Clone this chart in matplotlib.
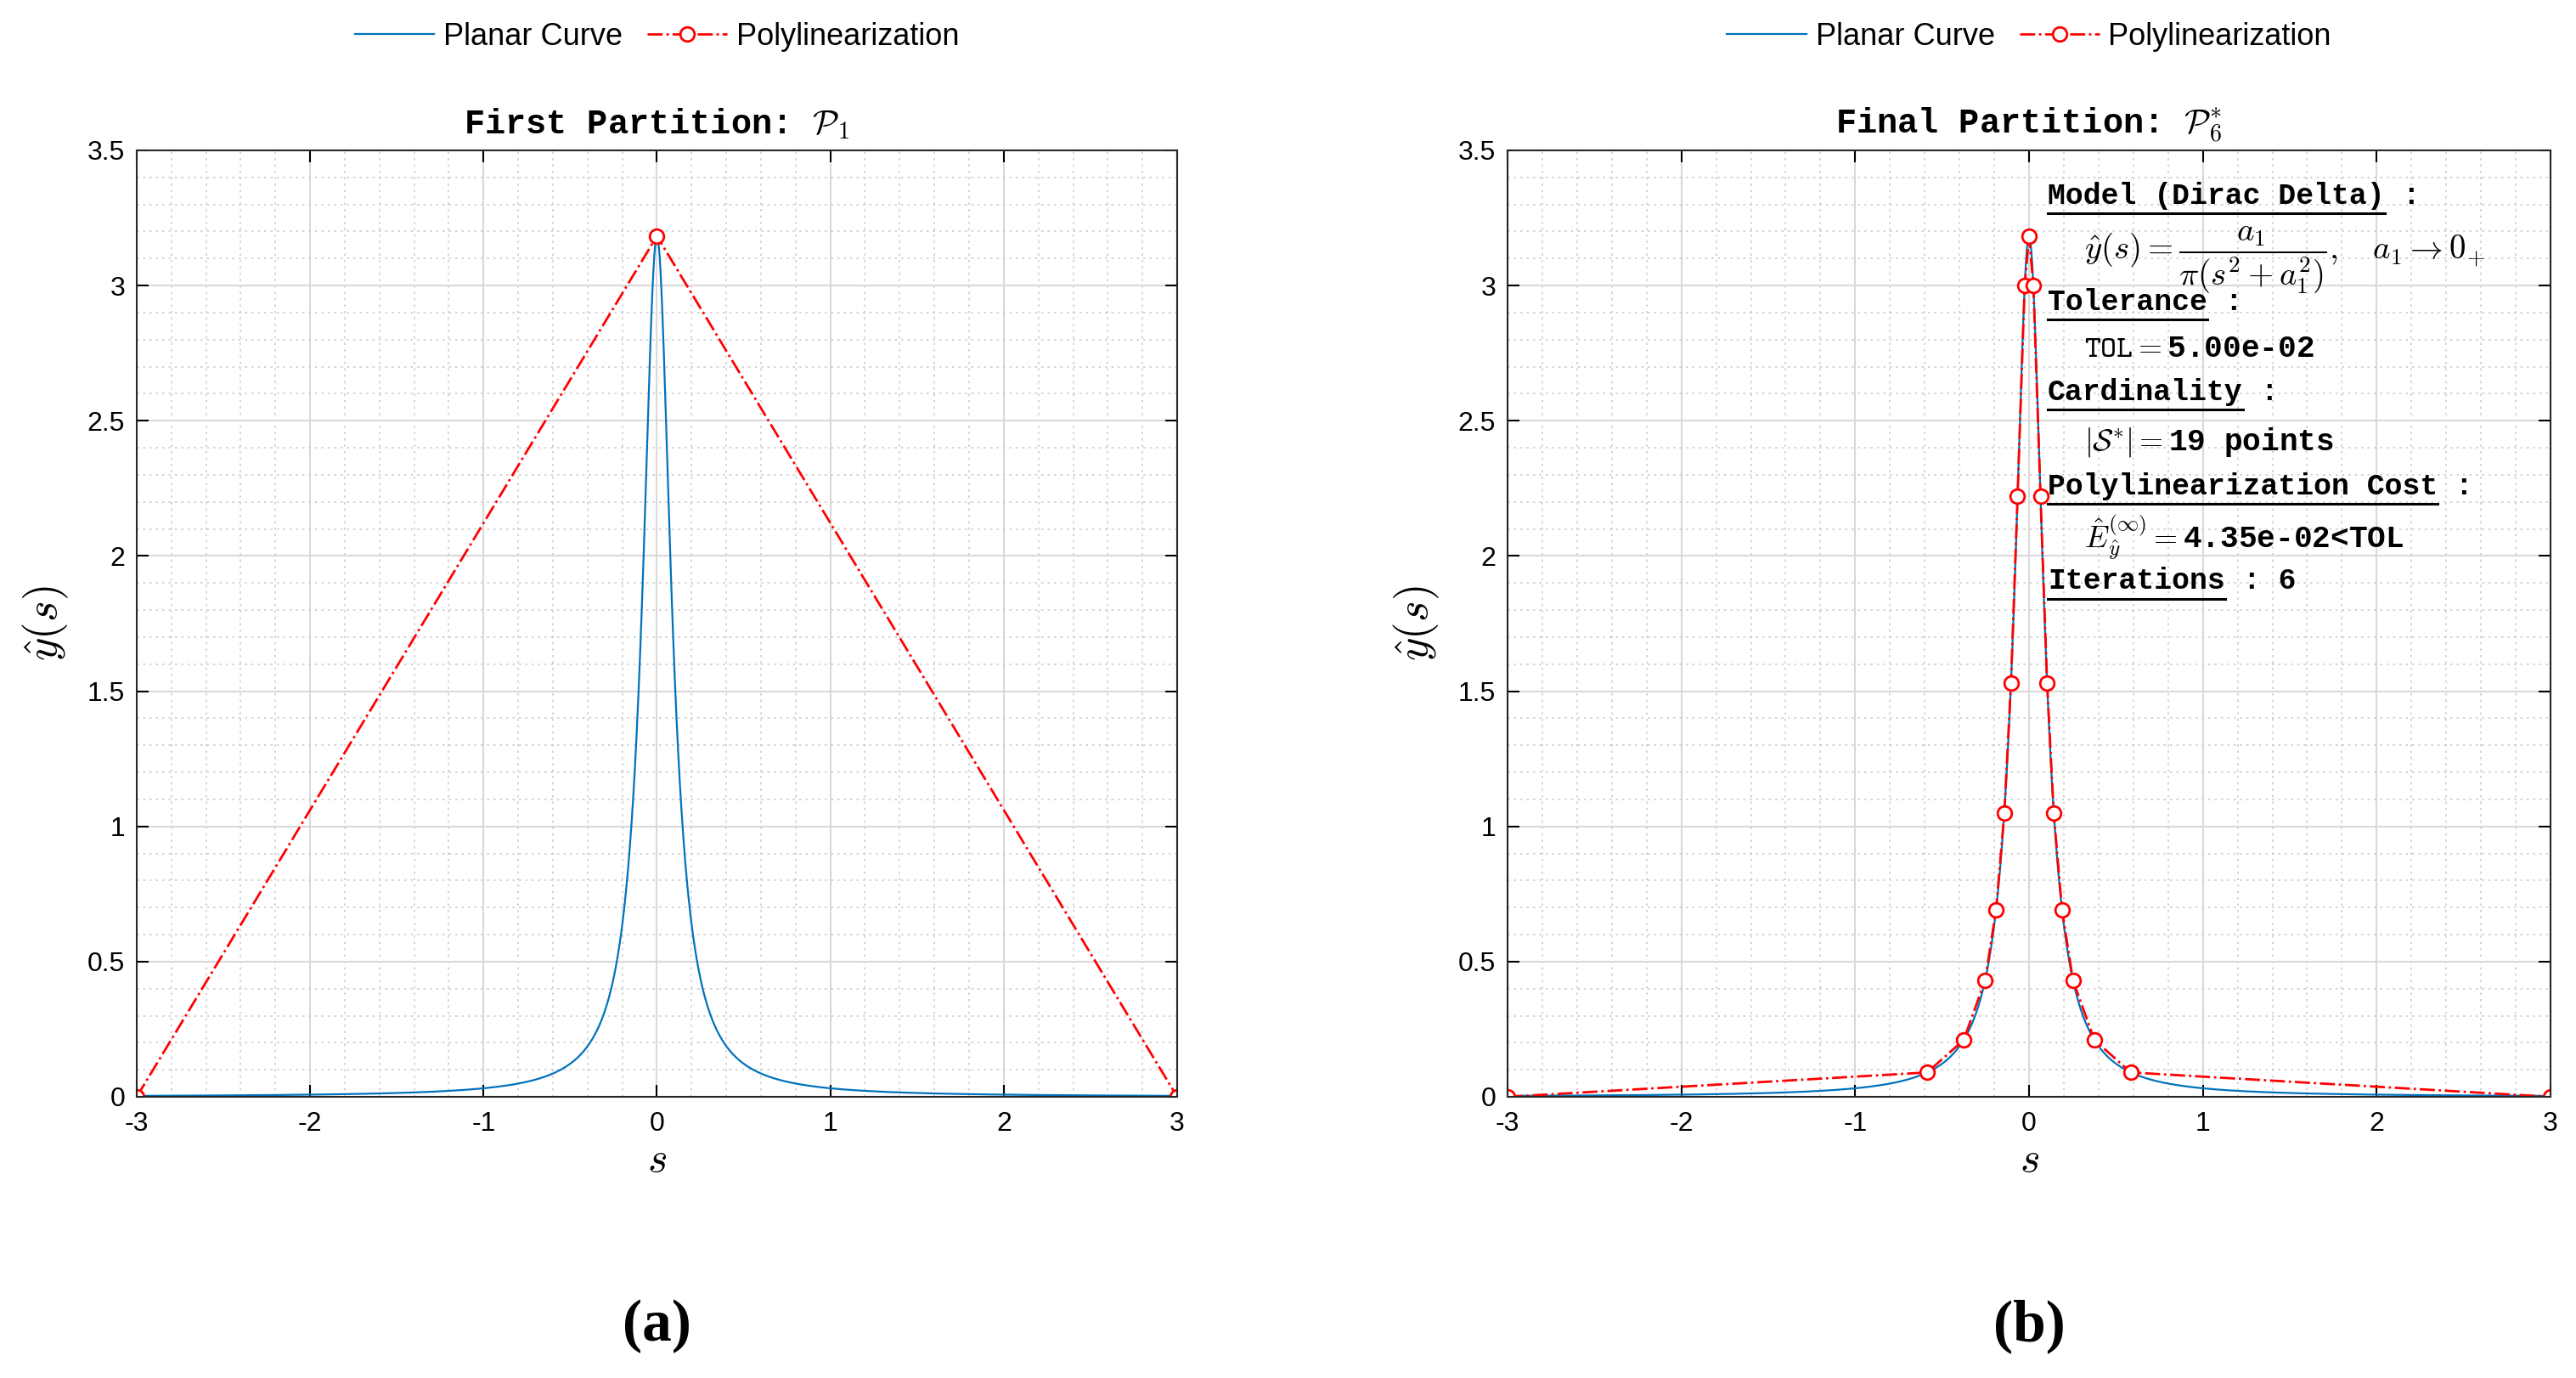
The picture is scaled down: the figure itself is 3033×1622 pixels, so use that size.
import matplotlib
matplotlib.use("Agg")
import matplotlib.pyplot as plt
import numpy as np
from matplotlib.lines import Line2D
from matplotlib.ticker import MultipleLocator

plt.rcParams["font.family"] = ["Liberation Sans", "DejaVu Sans"]
plt.rcParams["mathtext.fontset"] = "cm"
plt.rcParams["axes.unicode_minus"] = False

# model parameter (Dirac delta approximation), peak = 1/(pi*a1) ~ 3.18
A1 = 0.1
S_RANGE = (-3.0, 3.0)

# first partition
p1_s = [-3.0, 0.0, 3.0]
p1_y = [0.0, 3.183, 0.0]

# final partition (19 points)
p6_s = [-3.0, -0.586, -0.376, -0.253, -0.19, -0.142, -0.104, -0.066, -0.025, 0.0,
        0.025, 0.066, 0.104, 0.142, 0.19, 0.253, 0.376, 0.586, 3.0]
p6_y = [0.0, 0.09, 0.21, 0.43, 0.69, 1.05, 1.53, 2.22, 3.0, 3.183,
        3.0, 2.22, 1.53, 1.05, 0.69, 0.43, 0.21, 0.09, 0.0]

titles = [r"First Partition: $\mathcal{P}_1$", r"Final Partition: $\mathcal{P}_6^{*}$"]
panel_tags = ["a", "b"]

annot = [
    ("Model (Dirac Delta)", True),
    (r"$\hat{y}(s) = \dfrac{a_1}{\pi(s^2+a_1^2)},\quad a_1 \rightarrow 0_{+}$", False),
    ("Tolerance", True),
    (r"$\mathtt{TOL} = $5.00e-02", False),
    ("Cardinality", True),
    (r"$|\mathcal{S}^{*}| = $19 points", False),
    ("Polylinearization Cost", True),
    (r"$\hat{E}_{\hat{y}}^{(\infty)} = $4.35e-02<TOL", False),
    ("Iterations", True),
]
annot_y = [0.952, 0.885, 0.84, 0.79, 0.745, 0.692, 0.645, 0.59, 0.545]

W, H = 3033, 1622
fig = plt.figure(figsize=(W / 100, H / 100), dpi=100)
axes_px = [(161, 1386), (1775, 3003)]
top, bottom = 177, 1291

s = np.linspace(*S_RANGE, 3001)
curve = A1 / (np.pi * (s ** 2 + A1 ** 2))

mono = ["Liberation Mono", "DejaVu Sans Mono"]
axs = []
for i, (x0, x1) in enumerate(axes_px):
    ax = fig.add_axes([x0 / W, 1 - bottom / H, (x1 - x0) / W, (bottom - top) / H])
    axs.append(ax)
    ax.plot(s, curve, color="#0072BD", lw=1.6, label="Planar Curve")
    ps, py = (p1_s, p1_y) if i == 0 else (p6_s, p6_y)
    ax.plot(ps, py, "-.o", color="red", lw=2, ms=12, mfc="white", mew=2,
            label="Polylinearization")
    ax.set_xlim(-3, 3)
    ax.set_ylim(0, 3.5)
    ax.xaxis.set_major_locator(MultipleLocator(1))
    ax.xaxis.set_minor_locator(MultipleLocator(0.2))
    ax.yaxis.set_minor_locator(MultipleLocator(0.1))
    ax.set_yticks(np.arange(0, 3.51, 0.5))
    ax.set_yticklabels(["0", "0.5", "1", "1.5", "2", "2.5", "3", "3.5"])
    ax.grid(which="major", color="#d9d9d9", lw=1.5)
    ax.grid(which="minor", color="#cccccc", lw=1.2, ls=(0, (1.5, 3)))
    ax.set_axisbelow(True)
    ax.tick_params(which="both", direction="in", top=True, right=True, labelsize=23)
    ax.tick_params(axis="x", pad=12)
    ax.tick_params(axis="y", pad=10)
    ax.tick_params(which="major", length=10, width=1.5)
    ax.tick_params(which="minor", length=0)
    for sp in ax.spines.values():
        sp.set_linewidth(1.5)
        sp.set_color("#262626")
    ax.set_xlabel(r"$s$", fontsize=36, labelpad=4)
    ax.set_ylabel(r"$\hat{y}(s)$", fontsize=38, labelpad=14)
    ax.set_title(titles[i], fontsize=29, fontweight="bold", family=mono, pad=14)
    ax.legend(loc="lower center", bbox_to_anchor=(0.5, 1.075), ncol=2, frameon=False,
              fontsize=26, handlelength=2.6, columnspacing=0.8, handletextpad=0.3)
    fig.text((x0 + x1) / 2 / W, 1 - 1561 / H, "(" + panel_tags[i] + ")",
             family=["Liberation Serif"], fontsize=50, fontweight="bold",
             ha="center", va="center")

ax = axs[1]
tx = 0.518
heads = []
for (txt, head), yy in zip(annot, annot_y):
    if head:
        t = ax.text(tx, yy, txt, transform=ax.transAxes, family=mono, fontweight="bold",
                    fontsize=25, va="center")
        heads.append((t, yy, txt))
    else:
        fs = 28 if txt.startswith(r"$\hat{y}") else 26
        ax.text(tx + 0.035, yy, txt, transform=ax.transAxes, family=mono,
                fontweight="bold", fontsize=fs, va="center")

fig.canvas.draw()
r = fig.canvas.get_renderer()
inv = ax.transAxes.inverted()
for t, yy, txt in heads:
    bb = t.get_window_extent(r)
    (xa, ya), (xb, yb) = inv.transform([(bb.x0, bb.y0), (bb.x1, bb.y1)])
    ax.add_line(Line2D([xa, xb], [ya - 0.004] * 2, transform=ax.transAxes,
                       color="black", lw=2.2))
    suffix = " : 6" if txt == "Iterations" else " :"
    ax.text(xb, yy, suffix, transform=ax.transAxes, family=mono, fontweight="bold",
            fontsize=25, va="center")

fig.savefig("out.png", dpi=100)
